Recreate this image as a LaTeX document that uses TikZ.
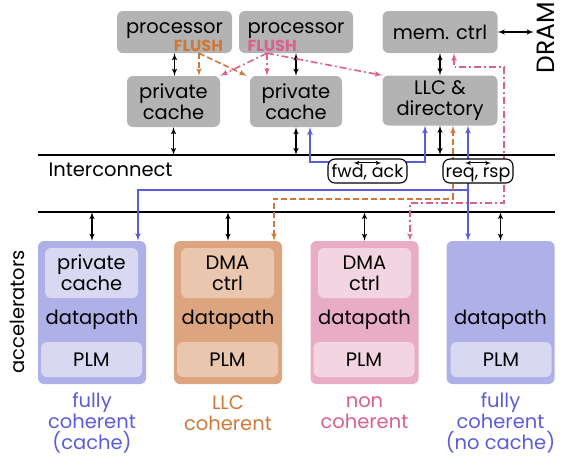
\documentclass[tikz,border=0pt]{standalone}
\usepackage{fontspec}
\setmainfont{Poppins}
\usepackage{tikz}
\usetikzlibrary{arrows}

\definecolor{boxgray}{RGB}{179,179,179}
\definecolor{accblue}{RGB}{92,92,218}
\definecolor{blufill}{RGB}{176,176,232}
\definecolor{bluinner}{RGB}{216,216,242}
\definecolor{llcorange}{RGB}{206,120,58}
\definecolor{orgfill}{RGB}{220,165,128}
\definecolor{orginner}{RGB}{234,198,174}
\definecolor{ncpink}{RGB}{218,96,142}
\definecolor{pnkfill}{RGB}{232,172,196}
\definecolor{pnkinner}{RGB}{243,212,225}

\newcommand{\mainfs}{\fontsize{19.5}{21}\selectfont}
\newcommand{\flushfs}{\fontsize{16}{16}\selectfont\bfseries}

\begin{document}
\begin{tikzpicture}[x=1pt,y=-1pt]
            \tikzset{gbox/.style = {fill=boxgray, rounded corners=6pt, inner sep=0pt, align=center, font=\mainfs}}
            \tikzset{accbox/.style = {rounded corners=6pt, inner sep=0pt, minimum width=108pt, minimum height=143pt}}
            \tikzset{inbox/.style = {rounded corners=6pt, inner sep=0pt, align=center, font=\mainfs}}
            \tikzset{msgbox/.style = {draw, line width=1.1pt, fill=white, rounded corners=7pt, inner sep=0pt, font=\fontsize{17.5}{18}\selectfont, minimum height=24pt, text depth=2pt, text height=14pt}}
            \tikzset{edge/.style = {<->, > = latex', line width=1.4pt}}
            \tikzset{fcedge/.style = {edge, accblue, line width=1.6pt}}
            \tikzset{llcedge/.style = {edge, llcorange, line width=1.6pt, dash pattern=on 6pt off 3pt}}
            \tikzset{ncedge/.style = {edge, ncpink, line width=1.6pt, dash pattern=on 7pt off 3pt on 1.8pt off 3pt}}
            \useasboundingbox (0,0) rectangle (570,459);
            % vertices
            \node[gbox, minimum width=115pt, minimum height=42pt, align=right] (proc1) at (174.5,32) {\rule{0pt}{21pt}processor\\[-3pt]{\flushfs\color{llcorange}FLUSH}};
            \node[gbox, minimum width=114pt, minimum height=42pt, align=left] (proc2) at (296,32) {\rule{0pt}{21pt}processor\\[-3pt]{\flushfs\color{ncpink}FLUSH}};
            \node[gbox, minimum width=115pt, minimum height=42pt] (memctrl) at (440,32) {mem. ctrl};
            \node[gbox, minimum width=93pt, minimum height=51pt] (pc1) at (173.5,101.5) {private\\cache};
            \node[gbox, minimum width=92pt, minimum height=51pt] (pc2) at (296,101.5) {private\\cache};
            \node[gbox, minimum width=115pt, minimum height=50pt] (llc) at (440,100.5) {LLC \&\\directory};
            \node[rotate=90, font=\fontsize{25}{26}\selectfont] (dram) at (546,38) {DRAM};
            % interconnect
            \coordinate (bus1w) at (38,155);
            \coordinate (bus1e) at (555,155);
            \coordinate (bus2w) at (38,212);
            \coordinate (bus2e) at (555,212);
            \draw[line width=1.4pt] (bus1w) -- (bus1e);
            \draw[line width=1.4pt] (bus2w) -- (bus2e);
            \node[anchor=west, font=\mainfs] (icn) at (45,170) {Interconnect};
            % accelerators
            \node[accbox, fill=blufill] (acc1) at (92,312.5) {};
            \node[inbox, fill=bluinner, minimum width=93pt, minimum height=50pt] (acc1top) at (91.5,273) {private\\cache};
            \node[font=\mainfs] (acc1dp) at (92,320) {datapath};
            \node[inbox, fill=bluinner, minimum width=101pt, minimum height=35pt] (acc1plm) at (91.5,359.5) {PLM};
            \node[accbox, fill=orgfill] (acc2) at (228,312.5) {};
            \node[inbox, fill=orginner, minimum width=93pt, minimum height=50pt] (acc2top) at (227.5,273) {DMA\\ctrl};
            \node[font=\mainfs] (acc2dp) at (228,320) {datapath};
            \node[inbox, fill=orginner, minimum width=101pt, minimum height=35pt] (acc2plm) at (227.5,359.5) {PLM};
            \node[accbox, fill=pnkfill] (acc3) at (364.5,312.5) {};
            \node[inbox, fill=pnkinner, minimum width=93pt, minimum height=50pt] (acc3top) at (364.5,273) {DMA\\ctrl};
            \node[font=\mainfs] (acc3dp) at (364.5,320) {datapath};
            \node[inbox, fill=pnkinner, minimum width=101pt, minimum height=35pt] (acc3plm) at (364,359.5) {PLM};
            \node[accbox, fill=blufill] (acc4) at (500.5,312.5) {};
            \node[font=\mainfs] (acc4dp) at (500.5,320) {datapath};
            \node[inbox, fill=bluinner, minimum width=101pt, minimum height=35pt] (acc4plm) at (501,359.5) {PLM};
            \node[rotate=90, font=\mainfs] (acclbl) at (17,312) {accelerators};
            \node[align=center, font=\mainfs, text=accblue] (acc1lbl) at (92,423) {fully\\coherent\\(cache)};
            \node[align=center, font=\mainfs, text=llcorange] (acc2lbl) at (228,413) {LLC\\coherent};
            \node[align=center, font=\mainfs, text=ncpink] (acc3lbl) at (364.5,413) {non\\coherent};
            \node[align=center, font=\mainfs, text=accblue] (acc4lbl) at (500.5,423) {fully\\coherent\\(no cache)};
            % edges
            \draw[edge] (proc1.south) -- (proc1.south |- pc1.north);
            \draw[edge] (proc2.south) -- (proc2.south |- pc2.north);
            \draw[edge] (memctrl.south) -- (memctrl.south |- llc.north);
            \draw[edge] (memctrl.east) -- (memctrl.east -| dram.north);
            \draw[edge] (pc1.south) -- (pc1.south |- bus1w);
            \draw[edge] (pc2.south) -- (pc2.south |- bus1w);
            \draw[edge] (llc.south) -- (llc.south |- bus1w);
            \draw[edge] (acc1.north) -- (acc1.north |- bus2w);
            \draw[edge] (acc2.north) -- (acc2.north |- bus2w);
            \draw[edge] (acc3.north) -- (acc3.north |- bus2w);
            \draw[edge] (acc4.north) -- (acc4.north |- bus2w);
            % flush
            \draw[llcedge, ->] ([xshift=24.5pt]proc1.south) -- ([xshift=24.5pt]proc1.south |- pc1.north);
            \draw[llcedge, ->] ([xshift=24.5pt]proc1.south) -- ([xshift=-3pt]pc2.north west);
            \draw[ncedge, ->] ([xshift=-29pt]proc2.south) -- ([xshift=-29pt]proc2.south |- pc2.north);
            \draw[ncedge, ->] ([xshift=-29pt]proc2.south) -- (pc1.north east);
            \draw[ncedge, ->] ([xshift=-29pt]proc2.south) -- (llc.north west);
            % coherence paths
            \draw[fcedge] ([xshift=14pt]pc2.south) -- ++(0,35) -| ([xshift=-15pt]llc.south);
            \draw[fcedge] ([xshift=28pt]llc.south) -- ([xshift=28pt]llc.south |- acc4.north);
            \coordinate (fcjoin) at (468,190);
            \draw[fcedge, ->] (fcjoin) -| ([xshift=46pt]acc1.north);
            \draw[llcedge] ([xshift=13pt]llc.south) -- ++(0,73) -| ([xshift=46pt]acc2.north);
            \draw[ncedge] ([xshift=14pt]memctrl.south) -- ++(0,14) -- ++(50,0) -- ++(0,136) -| ([xshift=45.5pt]acc3.north);
            % message boxes
            \node[msgbox, minimum width=79pt] (fa) at (367.5,171) {fwd, ack};
            \draw[<->, >=latex', line width=1pt] ([xshift=-14pt,yshift=-4.5pt]fa.north) -- ([xshift=14pt,yshift=-4.5pt]fa.north);
            \node[msgbox, minimum width=70pt] (rr) at (478,171) {req, rsp};
            \draw[<->, >=latex', line width=1pt] ([xshift=-13pt,yshift=-4.5pt]rr.north) -- ([xshift=13pt,yshift=-4.5pt]rr.north);
        \end{tikzpicture}
\end{document}
